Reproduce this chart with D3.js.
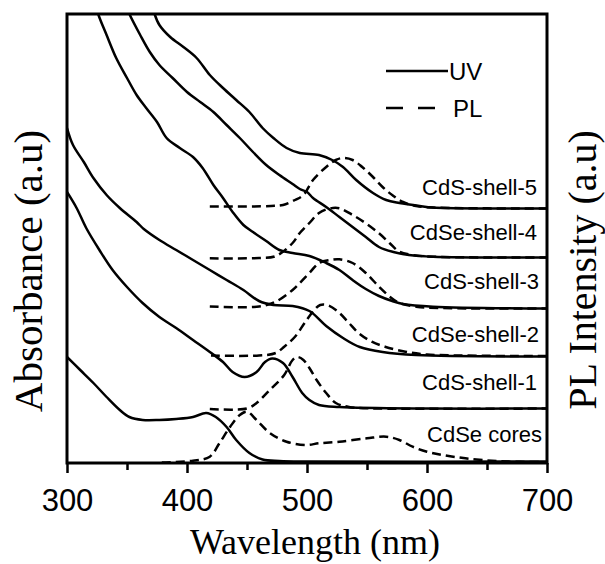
<!DOCTYPE html>
<html>
<head>
<meta charset="utf-8">
<script src="https://cdn.jsdelivr.net/npm/d3@7"></script>
<style>
  body { margin: 0; background: #fff; }
  svg { display: block; }
</style>
</head>
<body>
<div class="chart"></div>
<script>
// UV absorbance and PL spectra, stacked by sample

var sampleNames = ['CdSe cores', 'CdS-shell-1', 'CdSe-shell-2', 'CdS-shell-3', 'CdSe-shell-4', 'CdS-shell-5'];
var xTicks = [300, 400, 500, 600, 700];
var xMinorTicks = [350, 450, 550, 650];

// [wavelength nm, intensity a.u.] (offset included)
var uvCores = [[300, 106], [311, 93], [322, 80], [333, 66], [344, 53], [352, 46], [363, 43], [377, 43], [391, 44],
  [405, 46], [416, 50], [424, 46], [433, 36], [441, 23], [452, 10], [463, 3.5], [477, 2], [502, 1.5], [700, 1.5]];
var uvShell1 = [[300, 271], [308, 255], [316, 235], [327, 213], [338, 193], [350, 176], [363, 160], [377, 146],
  [391, 135], [405, 123], [419, 111], [430, 101], [438, 91], [448, 86], [458, 91], [465, 101], [471, 104.5],
  [480, 100], [488, 86], [496, 70], [502, 63], [510, 58], [527, 56], [600, 54.5], [700, 54.5]];
var uvShell2 = [[300, 335], [305, 318], [314, 301], [322, 285], [333, 268], [344, 255], [358, 241], [364, 234],
  [377, 223], [391, 213], [405, 203], [419, 193], [433, 183], [447, 173], [460, 162], [472, 158], [488, 157],
  [502, 152], [516, 137], [530, 125], [544, 116], [563, 111], [591, 108], [700, 106.5]];
var uvShell3 = [[324, 459], [326, 449], [333, 428], [341, 405], [350, 385], [358, 368], [366, 355], [375, 341],
  [383, 325], [394, 315], [405, 306], [413, 295], [422, 278], [430, 265], [438, 251], [447, 238], [455, 231],
  [466, 222], [477, 213], [488, 210], [502, 207], [516, 200], [527, 193], [538, 183], [549, 174], [560, 167],
  [571, 162], [580, 159], [605, 156.3], [700, 154.5]];
var uvShell4 = [[350, 455], [352, 449], [361, 428], [369, 411], [377, 398], [388, 385], [400, 371], [411, 361],
  [422, 351], [433, 338], [444, 325], [455, 311], [466, 298], [477, 288], [488, 279], [494, 274], [500, 271],
  [505, 265], [516, 256], [527, 246], [538, 236], [549, 226], [560, 216], [572, 211], [585, 208], [605, 206.3],
  [700, 205.5]];
var uvShell5 = [[371, 459], [373, 449], [377, 438], [386, 426], [397, 416], [408, 405], [419, 388], [430, 375],
  [441, 363], [452, 351], [463, 335], [472, 325], [483, 315], [494, 310], [510, 308], [521, 303], [530, 296],
  [541, 283], [555, 270], [566, 263], [577, 260], [594, 257], [605, 255.5], [650, 254.5], [700, 254.5]];

var plCores = [[379, 0.5], [405, 2.3], [419, 6.3], [427, 19.7], [436, 36.3], [444, 48], [450, 51.3], [458, 43],
  [469, 30], [483, 21.3], [499, 18], [510, 19.7], [527, 21.3], [550, 24.7], [566, 26.3], [577, 23], [588, 16.3],
  [600, 11.3], [613, 8], [632, 4.7], [660, 1.8], [700, 0.8]];
var plShell1 = [[419, 54], [450, 54.5], [458, 60], [469, 73], [481, 88], [488, 103], [492, 106], [497, 103],
  [502, 95], [508, 83], [516, 70], [524, 60], [535, 56], [560, 54.5], [700, 54.5]];
var plShell2 = [[420, 107.5], [460, 107.5], [474, 110], [481, 116.3], [490, 126.3], [498, 140], [506, 153],
  [511, 158], [518, 157.5], [527, 150], [535, 140], [543, 130], [554, 121.3], [565, 116.3], [582, 111.3],
  [600, 108.5], [700, 107]];
var plShell3 = [[419, 156.5], [460, 156.5], [474, 161.3], [488, 173], [494, 180], [502, 190], [510, 200],
  [519, 203], [527, 203.7], [538, 200], [549, 190], [560, 176.3], [569, 166.3], [577, 160], [591, 156.3],
  [610, 155], [700, 154.5]];
var plShell4 = [[419, 204.7], [460, 205], [474, 207], [488, 220], [494, 230], [502, 240], [510, 250],
  [519, 254.5], [527, 254.7], [538, 248], [549, 239.7], [560, 229.7], [569, 219.7], [577, 211.3], [588, 208],
  [605, 206.3], [700, 205.5]];
var plShell5 = [[419, 256.5], [450, 256.5], [470, 257], [480, 258], [490, 263], [497, 268], [505, 283],
  [516, 296], [524, 303], [530, 305], [538, 303], [546, 296], [555, 286], [563, 276], [571, 268], [580, 261],
  [591, 257], [604, 255.5], [700, 254.5]];

var uvSeries = [uvCores, uvShell1, uvShell2, uvShell3, uvShell4, uvShell5];
var plSeries = [plCores, plShell1, plShell2, plShell3, plShell4, plShell5];

var chartOptions = {
  width: 605,
  height: 564,
  left: 67,
  right: 547,
  top: 14,
  bottom: 463
};

var labelLayout = [[542, 442], [537, 390], [539, 341.5], [539, 289], [537, 239.5], [537, 194.5]];

var svg = d3.select('.chart').append('svg')
  .attr('width', chartOptions.width)
  .attr('height', chartOptions.height);

var x = d3.scaleLinear().domain([300, 700]).range([chartOptions.left, chartOptions.right]);
var y = d3.scaleLinear().domain([0, 450]).range([chartOptions.bottom, 13]);

svg.append('clipPath').attr('id', 'plot-clip')
  .append('rect')
  .attr('x', chartOptions.left)
  .attr('y', chartOptions.top)
  .attr('width', chartOptions.right - chartOptions.left)
  .attr('height', chartOptions.bottom - chartOptions.top);

var line = d3.line()
  .x(function(d) { return x(d[0]); })
  .y(function(d) { return y(d[1]); })
  .curve(d3.curveCatmullRom.alpha(0.5));

var plot = svg.append('g').attr('clip-path', 'url(#plot-clip)');

plot.selectAll('path.uv')
  .data(uvSeries)
  .enter().append('path')
  .attr('class', 'uv')
  .attr('d', line)
  .attr('fill', 'none')
  .attr('stroke', '#000')
  .attr('stroke-width', 2.5);

plot.selectAll('path.pl')
  .data(plSeries)
  .enter().append('path')
  .attr('class', 'pl')
  .attr('d', line)
  .attr('fill', 'none')
  .attr('stroke', '#000')
  .attr('stroke-width', 2.5)
  .attr('stroke-dasharray', '9,5');

// frame
svg.append('rect')
  .attr('x', chartOptions.left)
  .attr('y', chartOptions.top)
  .attr('width', chartOptions.right - chartOptions.left)
  .attr('height', chartOptions.bottom - chartOptions.top)
  .attr('fill', 'none')
  .attr('stroke', '#000')
  .attr('stroke-width', 3);

var xAxis = svg.append('g')
  .attr('transform', 'translate(0,' + chartOptions.bottom + ')')
  .call(d3.axisBottom(x).tickValues(xTicks).tickSize(10).tickFormat(d3.format('d')));

var xMinor = svg.append('g')
  .attr('transform', 'translate(0,' + chartOptions.bottom + ')')
  .call(d3.axisBottom(x).tickValues(xMinorTicks).tickSize(7).tickFormat(''));

svg.selectAll('.domain').remove();
svg.selectAll('.tick line').attr('stroke', '#000').attr('stroke-width', 2.5);
xAxis.selectAll('.tick text')
  .attr('y', 26)
  .attr('fill', '#000')
  .style('font-family', '"Liberation Sans", Arial, sans-serif')
  .style('font-size', '31px');

// sample labels
svg.selectAll('text.sample')
  .data(sampleNames)
  .enter().append('text')
  .attr('class', 'sample')
  .attr('x', function(d, i) { return labelLayout[i][0]; })
  .attr('y', function(d, i) { return labelLayout[i][1]; })
  .attr('text-anchor', 'end')
  .style('font-family', '"Liberation Sans", Arial, sans-serif')
  .style('font-size', '22px')
  .text(function(d) { return d; });

// legend
var legend = svg.append('g').style('font-family', '"Liberation Sans", Arial, sans-serif').style('font-size', '24px');
legend.append('line').attr('x1', 386).attr('x2', 448).attr('y1', 71).attr('y2', 71)
  .attr('stroke', '#000').attr('stroke-width', 2.5);
legend.append('text').attr('x', 449).attr('y', 80).text('UV');
legend.append('line').attr('x1', 386).attr('x2', 436).attr('y1', 108).attr('y2', 108)
  .attr('stroke', '#000').attr('stroke-width', 2.5).attr('stroke-dasharray', '17,15');
legend.append('text').attr('x', 453).attr('y', 117).text('PL');

// axis titles
svg.append('text')
  .attr('x', 315).attr('y', 554)
  .attr('text-anchor', 'middle')
  .style('font-family', '"Liberation Serif", "Times New Roman", serif')
  .style('font-size', '36px')
  .text('Wavelength (nm)');

svg.append('text')
  .attr('transform', 'translate(42,271) rotate(-90)')
  .attr('text-anchor', 'middle')
  .style('font-family', '"Liberation Serif", "Times New Roman", serif')
  .style('font-size', '41px')
  .text('Absorbance (a.u)');

svg.append('text')
  .attr('transform', 'translate(596,270) rotate(-90)')
  .attr('text-anchor', 'middle')
  .style('font-family', '"Liberation Serif", "Times New Roman", serif')
  .style('font-size', '40px')
  .text('PL Intensity (a.u)');
</script>
</body>
</html>
